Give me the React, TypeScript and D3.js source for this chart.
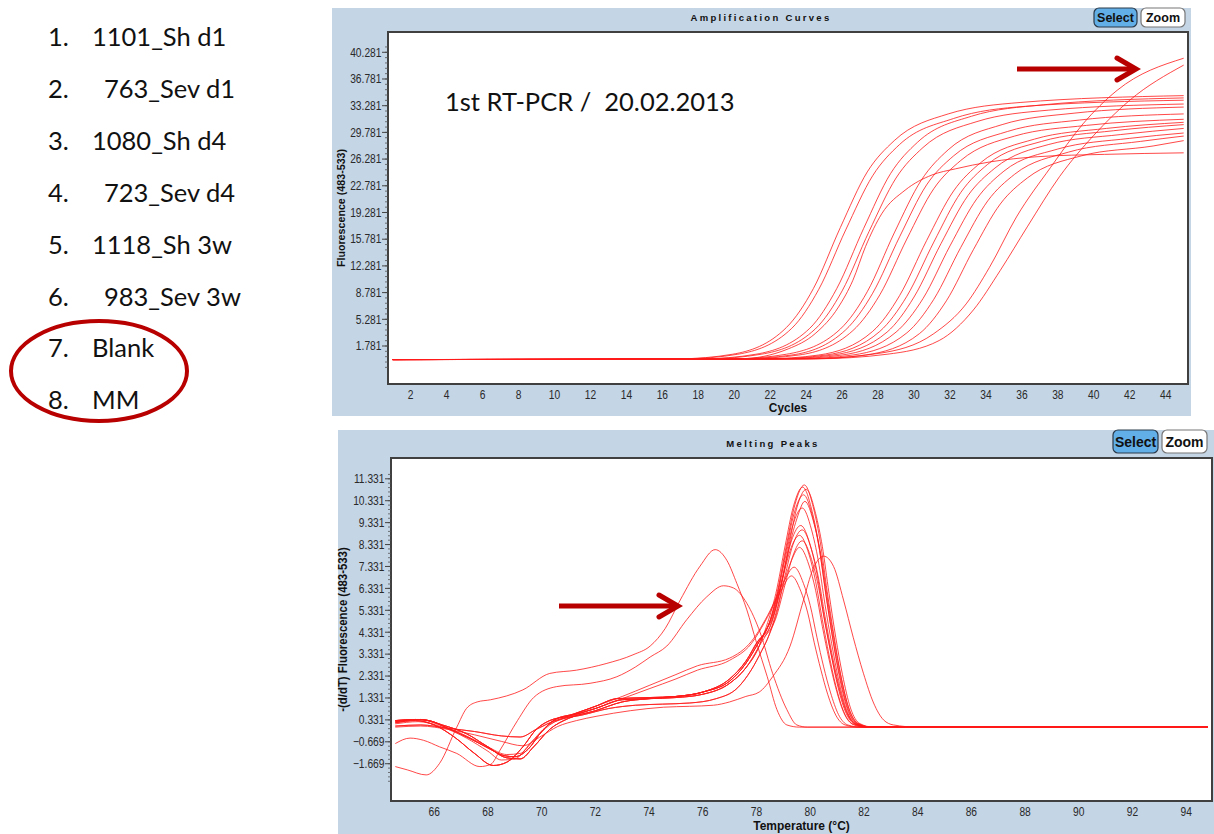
import React from "react";
import * as d3 from "d3";

type Pt = [number, number];

// ---------- left list ----------
const sampleNumbers = ["1.", "2.", "3.", "4.", "5.", "6.", "7.", "8."];
const sampleNames = ["1101_Sh d1", "763_Sev d1", "1080_Sh d4", "723_Sev d4", "1118_Sh 3w", "983_Sev 3w", "Blank", "MM"];
const sampleIndented = [false, true, false, true, false, true, false, false];

// ---------- amplification panel ----------
const ampTitle = "Amplification Curves";
const ampXLabel = "Cycles";
const ampYLabel = "Fluorescence (483-533)";
const ampNote = "1st RT-PCR /  20.02.2013";
const ampXTicks = [2, 4, 6, 8, 10, 12, 14, 16, 18, 20, 22, 24, 26, 28, 30, 32, 34, 36, 38, 40, 42, 44];
const ampYTicks = [1.781, 5.281, 8.781, 12.281, 15.781, 19.281, 22.781, 26.281, 29.781, 33.281, 36.781, 40.281];

const ampCurves: Pt[][] = [
  [[1, 0], [16.9, 0.1], [19.9, 0.7], [22.9, 4.2], [24.4, 9.3], [25.9, 17.3], [27.4, 24.6], [28.9, 28.7], [31.9, 32.2], [35.9, 33.7], [45, 34.6]],
  [[1, 0], [17.2, 0.1], [20.2, 0.7], [23.2, 4.1], [24.7, 9.2], [26.2, 17.0], [27.7, 24.1], [29.2, 28.2], [32.2, 31.6], [36.2, 33.2], [45, 34.0]],
  [[1, 0], [18.2, 0.1], [21.2, 0.7], [24.2, 4.1], [25.7, 9.3], [27.2, 17.2], [28.7, 24.4], [30.2, 28.5], [33.2, 31.9], [37.2, 33.4], [45, 34.3]],
  [[1, 0], [18.5, 0.1], [21.5, 0.7], [24.5, 4.0], [26.0, 9.0], [27.5, 16.8], [29.0, 23.8], [30.5, 27.8], [33.5, 31.2], [37.5, 32.7], [45, 33.5]],
  [[1, 0], [20.3, 0.1], [23.0, 1.4], [24.5, 3.4], [25.8, 6.9], [26.6, 10.4], [27.3, 14.8], [28.2, 19.1], [29.5, 22.2], [31.0, 24.2], [32.3, 25.0], [34.2, 25.9], [36.9, 26.6], [40.6, 26.9], [45, 27.1]],
  [[1, 0], [19.9, 0.1], [22.9, 0.7], [25.9, 4.0], [27.4, 8.9], [28.9, 16.6], [30.4, 23.5], [31.9, 27.5], [34.9, 30.8], [38.9, 32.3], [45, 33.1]],
  [[1, 0], [20.2, 0.1], [23.2, 0.6], [26.2, 3.9], [27.7, 8.7], [29.2, 16.1], [30.7, 22.9], [32.2, 26.7], [35.2, 29.9], [39.2, 31.4], [45, 32.2]],
  [[1, 0], [20.6, 0.1], [23.6, 0.6], [26.6, 3.8], [28.1, 8.5], [29.6, 15.8], [31.1, 22.4], [32.6, 26.1], [35.6, 29.3], [39.6, 30.7], [45, 31.5]],
  [[1, 0], [21.7, 0.1], [24.7, 0.6], [27.7, 3.7], [29.2, 8.4], [30.7, 15.6], [32.2, 22.1], [33.7, 25.8], [36.7, 28.9], [40.7, 30.3], [45, 31.1]],
  [[1, 0], [22.1, 0.1], [25.1, 0.6], [28.1, 3.7], [29.6, 8.3], [31.1, 15.4], [32.6, 21.9], [34.1, 25.6], [37.1, 28.6], [41.1, 30.0], [45, 30.8]],
  [[1, 0], [22.5, 0.1], [25.5, 0.6], [28.5, 3.6], [30.0, 8.2], [31.5, 15.2], [33.0, 21.5], [34.5, 25.1], [37.5, 28.2], [41.5, 29.5], [45, 30.3]],
  [[1, 0], [23.0, 0.1], [26.0, 0.6], [29.0, 3.6], [30.5, 8.0], [32.0, 14.9], [33.5, 21.1], [35.0, 24.7], [38.0, 27.6], [42.0, 29.0], [45, 29.7]],
  [[1, 0], [23.6, 0.1], [26.6, 0.6], [29.6, 3.5], [31.1, 7.9], [32.6, 14.7], [34.1, 20.8], [35.6, 24.3], [38.6, 27.2], [42.6, 28.6], [45, 29.3]],
  [[1, 0], [24.3, 0.1], [27.3, 0.6], [30.3, 3.4], [31.8, 7.7], [33.3, 14.4], [34.8, 20.4], [36.3, 23.8], [39.3, 26.7], [43.3, 28.0], [45, 28.7]],
  [[1, 0], [24, 0.1], [28, 0.8], [31.1, 3.4], [32.9, 7.3], [34.2, 12.1], [35.7, 18.7], [37.6, 25.2], [39.4, 30.9], [41.3, 35.3], [45, 39.5]],
  [[1, 0], [24.5, 0.1], [28.5, 0.7], [31.4, 2.5], [33.3, 6.5], [34.8, 11.7], [36.3, 17.4], [38.1, 24.0], [40.0, 29.4], [42.0, 34.0], [45, 38.6]],
];

// ---------- melting panel ----------
const meltTitle = "Melting Peaks";
const meltXLabel = "Temperature (°C)";
const meltYLabel = "-(d/dT) Fluorescence (483-533)";
const meltXTicks = [66, 68, 70, 72, 74, 76, 78, 80, 82, 84, 86, 88, 90, 92, 94];
const meltYTicks = [-1.669, -0.669, 0.331, 1.331, 2.331, 3.331, 4.331, 5.331, 6.331, 7.331, 8.331, 9.331, 10.331, 11.331];

const rampA: Pt[] = [[64.55, 0.3], [65.3, 0.35], [65.8, 0.3], [66.5, -0.05], [67.3, -0.5], [68.0, -0.95], [68.6, -1.3], [69.0, -1.35], [69.5, -1.0], [70.0, -0.2], [70.5, 0.35], [71.2, 0.6], [72.0, 0.95], [72.8, 1.3], [74, 1.35], [75, 1.4], [76, 1.6], [77, 2.1], [77.6, 2.9], [78.1, 3.9]];
const rampB: Pt[] = [[64.55, 0.2], [65.3, 0.3], [66, 0.1], [66.8, -0.5], [67.5, -1.2], [68.2, -1.75], [68.7, -1.6], [69.3, -0.9], [69.8, -0.1], [70.3, 0.3], [71, 0.5], [72, 0.85], [73, 1.25], [74, 1.3], [75, 1.35], [76, 1.5], [77, 2.0], [77.6, 2.7], [78.1, 3.7]];
const rampC: Pt[] = [[64.55, 0.05], [65.5, 0.1], [66.5, -0.05], [67.5, -0.2], [68.5, -0.4], [69.2, -0.45], [69.8, -0.1], [70.5, 0.3], [71.5, 0.55], [72.5, 0.85], [73.5, 1.0], [74.5, 1.05], [75.5, 1.1], [76.5, 1.3], [77.3, 1.8], [77.8, 2.6], [78.2, 3.5]];
const rampD: Pt[] = [[64.55, 0.25], [65.5, 0.35], [66.3, 0.1], [67.2, -0.3], [68.0, -0.9], [68.7, -1.4], [69.2, -1.45], [69.7, -0.9], [70.3, -0.1], [71, 0.4], [72, 0.75], [73, 1.15], [74, 1.3], [75, 1.4], [76, 1.6], [77, 2.2], [77.6, 3.0], [78.1, 4.0]];
const flatTail: Pt[] = [[84.5, 0], [94.8, 0]];

const meltCurves: Pt[][] = [
  [...rampA, [78.43, 4.6], [78.78, 6.2], [79.13, 8.4], [79.43, 10.15], [79.78, 11.05], [80.13, 9.95], [80.38, 8.4], [80.63, 6.2], [80.88, 4.2], [81.13, 2.43], [81.43, 0.88], [81.78, 0.17], [82.28, 0], ...flatTail],
  [...rampB, [78.37, 4.6], [78.72, 6.1], [79.07, 8.3], [79.37, 10.05], [79.72, 10.95], [80.07, 9.85], [80.32, 8.3], [80.57, 6.15], [80.82, 4.15], [81.07, 2.4], [81.37, 0.88], [81.72, 0.16], [82.22, 0], ...flatTail],
  [...rampD, [78.5, 4.55], [78.85, 6.1], [79.2, 8.25], [79.5, 10.0], [79.85, 10.85], [80.2, 9.75], [80.45, 8.25], [80.7, 6.1], [80.95, 4.1], [81.2, 2.4], [81.5, 0.87], [81.85, 0.16], [82.35, 0], ...flatTail],
  [...rampA, [78.4, 4.5], [78.75, 5.95], [79.1, 8.05], [79.4, 9.75], [79.75, 10.6], [80.1, 9.55], [80.35, 8.05], [80.6, 5.95], [80.85, 4.0], [81.1, 2.35], [81.4, 0.85], [81.75, 0.16], [82.25, 0], ...flatTail],
  [...rampB, [78.45, 4.45], [78.8, 5.8], [79.15, 7.85], [79.5, 9.5], [79.8, 10.3], [80.15, 9.25], [80.4, 7.85], [80.65, 5.8], [80.9, 3.9], [81.15, 2.25], [81.45, 0.82], [81.8, 0.15], [82.3, 0], ...flatTail],
  [...rampD, [78.35, 4.4], [78.7, 5.6], [79.05, 7.6], [79.35, 9.2], [79.7, 10.0], [80.05, 9.0], [80.3, 7.6], [80.55, 5.6], [80.8, 3.8], [81.05, 2.2], [81.35, 0.8], [81.7, 0.15], [82.2, 0], ...flatTail],
  [...rampA, [78.3, 4.3], [78.65, 5.3], [79.0, 7.0], [79.3, 8.5], [79.65, 9.2], [80.0, 8.3], [80.25, 7.0], [80.5, 5.15], [80.75, 3.5], [81.0, 2.0], [81.3, 0.74], [81.65, 0.14], [82.15, 0], ...flatTail],
  [...rampC, [78.4, 4.0], [78.7, 5.1], [79.05, 6.85], [79.35, 8.3], [79.7, 9.0], [80.05, 8.1], [80.3, 6.85], [80.55, 5.05], [80.8, 3.4], [81.05, 1.98], [81.35, 0.72], [81.7, 0.14], [82.2, 0], ...flatTail],
  [...rampB, [78.25, 4.2], [78.6, 5.0], [78.95, 6.65], [79.25, 8.05], [79.6, 8.75], [79.95, 7.9], [80.2, 6.65], [80.45, 4.9], [80.7, 3.3], [80.95, 1.9], [81.25, 0.7], [81.6, 0.13], [82.1, 0], ...flatTail],
  [...rampD, [78.35, 4.2], [78.7, 4.9], [79.05, 6.45], [79.35, 7.8], [79.7, 8.5], [80.05, 7.65], [80.3, 6.45], [80.55, 4.75], [80.8, 3.2], [81.05, 1.87], [81.35, 0.68], [81.7, 0.13], [82.2, 0], ...flatTail],
  [...rampC, [78.4, 4.0], [78.75, 5.2], [79.0, 6.5], [79.3, 7.6], [79.6, 8.2], [79.95, 7.4], [80.2, 6.25], [80.45, 4.6], [80.7, 3.1], [80.95, 1.8], [81.25, 0.66], [81.6, 0.12], [82.1, 0], ...flatTail],
  [[64.55, 0.3], [65.4, 0.35], [66.3, 0.05], [67.2, -0.4], [68.0, -0.9], [68.7, -1.25], [69.2, -1.2], [69.7, -0.6], [70.3, 0.1], [71, 0.5], [72, 0.95], [73, 1.4], [74, 1.9], [75, 2.4], [75.8, 2.8], [77, 3.15], [77.8, 3.9], [78.5, 5.3], [79.0, 6.6], [79.4, 7.3], [79.75, 6.55], [80.0, 5.55], [80.25, 4.1], [80.5, 2.75], [80.75, 1.6], [81.05, 0.58], [81.4, 0.1], [81.9, 0], ...flatTail],
  [[64.55, 0.15], [65.4, 0.25], [66.3, 0.0], [67.2, -0.5], [68.0, -1.1], [68.5, -1.5], [69.0, -1.45], [69.6, -0.7], [70.2, 0.05], [71, 0.45], [72, 0.85], [73, 1.3], [74, 1.75], [75, 2.2], [75.8, 2.6], [77, 3.05], [77.8, 3.8], [78.4, 5.0], [78.9, 6.2], [79.3, 6.9], [79.65, 6.2], [79.9, 5.25], [80.15, 3.85], [80.4, 2.6], [80.65, 1.5], [80.95, 0.55], [81.3, 0.1], [81.8, 0], ...flatTail],
  [[64.55, 0.0], [65.5, 0.05], [66.5, -0.1], [67.5, -0.35], [68.5, -0.65], [69.3, -0.85], [70.0, -0.4], [70.6, 0.03], [71.3, 0.3], [72.06, 0.5], [73.3, 0.75], [74.54, 0.91], [75.5, 0.95], [76.4, 1.0], [77.0, 1.15], [77.6, 1.4], [78.1, 1.6], [78.6, 2.3], [79.25, 3.7], [79.75, 5.8], [80.1, 7.2], [80.5, 7.8], [80.87, 7.33], [81.24, 5.8], [81.6, 4.1], [81.98, 2.46], [82.36, 1.1], [82.73, 0.33], [83.1, 0.1], [84, 0.0], [94.8, 0]],
  [[64.55, -1.8], [65.0, -1.95], [65.7, -2.18], [66.2, -1.65], [66.84, 0.0], [67.2, 0.85], [67.6, 1.15], [68.1, 1.25], [69.3, 1.7], [70.3, 2.45], [71.3, 2.6], [72.4, 2.9], [73.4, 3.3], [74.04, 3.7], [74.6, 4.5], [75.16, 5.8], [75.9, 7.35], [76.46, 8.1], [76.9, 7.6], [77.27, 6.55], [77.64, 5.35], [78.0, 3.85], [78.4, 2.3], [78.76, 0.8], [79.13, 0.1], [79.6, 0], [94.8, 0]],
  [[64.55, -0.75], [65.1, -0.5], [65.6, -0.6], [66.2, -0.9], [66.84, -1.2], [67.7, -1.8], [68.1, -1.7], [68.45, -1.05], [69.1, 0.3], [69.7, 1.35], [70.56, 1.85], [71.8, 2.0], [72.8, 2.3], [73.5, 2.75], [74.04, 3.2], [74.66, 3.7], [75.4, 4.9], [76.15, 5.95], [76.77, 6.45], [77.14, 6.35], [77.64, 5.65], [78.14, 4.3], [78.6, 2.45], [79.13, 0.8], [79.5, 0.1], [79.9, 0], [94.8, 0]],
];

const AXIS_FONT = "'Liberation Sans', Arial, sans-serif";
const TEXT_FONT = "Lato, 'Open Sans', sans-serif";
const PANEL_BG = "#c4d5e6";
const CURVE = "#ff1a1a";
const DARK_RED = "#b80000";

function NarrowText({ x, y, children, anchor = "middle", size = 12.5, sx = 0.82, bold = false, rotate = 0 }: { x: number; y: number; children: React.ReactNode; anchor?: string; size?: number; sx?: number; bold?: boolean; rotate?: number }) {
  return (
    <text
      transform={`translate(${x},${y}) rotate(${rotate}) scale(${sx},1)`}
      textAnchor={anchor as any}
      fontFamily={AXIS_FONT}
      fontWeight={bold ? "bold" : "normal"}
      fontSize={size}
      fill={bold ? "#111" : "#2a2a2a"}
    >
      {children}
    </text>
  );
}

function Button({ x, y, w, h, label, active, fs }: { x: number; y: number; w: number; h: number; label: string; active: boolean; fs: number }) {
  return (
    <g>
      <rect x={x} y={y} width={w} height={h} rx={5} ry={5} fill={active ? "#62aee6" : "#ffffff"} stroke={active ? "#2a3a4a" : "#777"} strokeWidth={1.2} />
      <text x={x + w / 2} y={y + h / 2 + fs * 0.36} textAnchor="middle" fontFamily={AXIS_FONT} fontWeight="bold" fontSize={fs} fill="#111">
        {label}
      </text>
    </g>
  );
}

function YAxis({ scale, ticks, x, minorStep, fmt }: { scale: d3.ScaleLinear<number, number>; ticks: number[]; x: number; minorStep: number; fmt: (v: number) => string }) {
  const lo = ticks[0] - minorStep * 4;
  const hi = ticks[ticks.length - 1] + minorStep * 1;
  const minors = d3.range(lo, hi + 1e-6, minorStep);
  return (
    <g>
      {minors.map((m, i) => (
        <line key={"m" + i} x1={x - 3} x2={x} y1={scale(m)} y2={scale(m)} stroke="#555" strokeWidth={0.8} />
      ))}
      {ticks.map((t, i) => (
        <g key={i}>
          <line x1={x - 6} x2={x} y1={scale(t)} y2={scale(t)} stroke="#444" strokeWidth={1} />
          <NarrowText x={x - 6.5} y={scale(t) + 4.3} anchor="end">
            {fmt(t)}
          </NarrowText>
        </g>
      ))}
    </g>
  );
}

export default function App() {
  const fmt = d3.format(".3f");

  // amplification layout
  const aL = 388, aT = 32, aR = 1188, aB = 384;
  const ax = d3.scaleLinear().domain([0.74, 45.24]).range([aL, aR]);
  const ay = d3.scaleLinear().domain([-3.2, 42.94]).range([aB, aT]);
  const aLine = d3.line<Pt>().x((d) => ax(d[0])).y((d) => ay(d[1])).curve(d3.curveMonotoneX);

  // melting layout
  const mL = 391, mT = 458, mR = 1212, mB = 801;
  const mx = d3.scaleLinear().domain([64.39, 94.96]).range([mL, mR]);
  const my = d3.scaleLinear().domain([-3.37, 12.28]).range([mB, mT]);
  const mLine = d3.line<Pt>().x((d) => mx(d[0])).y((d) => my(d[1])).curve(d3.curveMonotoneX);

  return (
    <svg width={1214} height={834} style={{ position: "absolute", left: 0, top: 0, background: "#fff" }}>
      <defs>
        <clipPath id="ampClip">
          <rect x={aL} y={aT} width={aR - aL} height={aB - aT} />
        </clipPath>
        <clipPath id="meltClip">
          <rect x={mL} y={mT} width={mR - mL} height={mB - mT} />
        </clipPath>
      </defs>

      {/* sample list */}
      {sampleNames.map((name, i) => {
        const y = 46 + i * 51.9;
        return (
          <g key={i} fontFamily={TEXT_FONT} fontSize={25.5} fill="#111">
            <text x={48} y={y}>{sampleNumbers[i]}</text>
            <text x={sampleIndented[i] ? 104 : 92} y={y}>{name}</text>
          </g>
        );
      })}
      <ellipse cx={99} cy={371} rx={88} ry={50} fill="none" stroke={DARK_RED} strokeWidth={4} />

      {/* ===== Amplification panel ===== */}
      <rect x={332} y={8} width={859} height={408} fill={PANEL_BG} />
      <text x={761} y={21} textAnchor="middle" fontFamily={AXIS_FONT} fontWeight="bold" fontSize={9.5} letterSpacing={2.3} fill="#111">
        {ampTitle}
      </text>
      <Button x={1094} y={8} w={43} h={19} label="Select" active={true} fs={12.5} />
      <Button x={1141} y={8} w={44} h={19} label="Zoom" active={false} fs={12.5} />
      <rect x={aL} y={aT} width={aR - aL} height={aB - aT} fill="#fff" stroke="#404040" strokeWidth={2} />
      <YAxis scale={ay} ticks={ampYTicks} x={aL} minorStep={0.7} fmt={fmt} />
      {ampXTicks.map((t) => (
        <NarrowText key={t} x={ax(t)} y={aB + 15}>
          {t}
        </NarrowText>
      ))}
      <NarrowText x={(aL + aR) / 2} y={412} bold size={12.5} sx={0.95}>
        {ampXLabel}
      </NarrowText>
      <NarrowText x={345} y={(aT + aB) / 2} bold size={11.5} sx={0.93} rotate={-90}>
        {ampYLabel}
      </NarrowText>
      <g clipPath="url(#ampClip)">
        {ampCurves.map((c, i) => (
          <path key={i} d={aLine(c) || ""} fill="none" stroke={CURVE} strokeWidth={1} strokeOpacity={0.8} />
        ))}
      </g>
      <text x={445} y={111} fontFamily={TEXT_FONT} fontSize={25.5} fill="#111" style={{ whiteSpace: "pre" }}>
        {ampNote}
      </text>
      {/* arrow top */}
      <line x1={1017} y1={69} x2={1132} y2={69} stroke={DARK_RED} strokeWidth={5} />
      <polyline points="1117,58 1136,69 1117,80" fill="none" stroke={DARK_RED} strokeWidth={5} strokeLinecap="round" />

      {/* ===== Melting panel ===== */}
      <rect x={338} y={430} width={876} height={404} fill={PANEL_BG} />
      <text x={773} y={447} textAnchor="middle" fontFamily={AXIS_FONT} fontWeight="bold" fontSize={9.5} letterSpacing={2.3} fill="#111">
        {meltTitle}
      </text>
      <Button x={1113} y={430} w={45} h={23} label="Select" active={true} fs={14} />
      <Button x={1162} y={430} w={45} h={23} label="Zoom" active={false} fs={14} />
      <rect x={mL} y={mT} width={mR - mL} height={mB - mT} fill="#fff" stroke="#404040" strokeWidth={2} />
      <YAxis scale={my} ticks={meltYTicks} x={mL} minorStep={0.2} fmt={fmt} />
      {meltXTicks.map((t) => (
        <NarrowText key={t} x={mx(t)} y={mB + 15}>
          {t}
        </NarrowText>
      ))}
      <NarrowText x={(mL + mR) / 2} y={830} bold size={12.5} sx={0.96}>
        {meltXLabel}
      </NarrowText>
      <NarrowText x={347} y={(mT + mB) / 2} bold size={12} sx={0.95} rotate={-90}>
        {meltYLabel}
      </NarrowText>
      <g clipPath="url(#meltClip)">
        {meltCurves.map((c, i) => (
          <path key={i} d={mLine(c) || ""} fill="none" stroke={CURVE} strokeWidth={1} strokeOpacity={0.8} />
        ))}
      </g>
      {/* arrow bottom */}
      <line x1={559} y1={606} x2={674} y2={606} stroke={DARK_RED} strokeWidth={5} />
      <polyline points="659,595 678,606 659,617" fill="none" stroke={DARK_RED} strokeWidth={5} strokeLinecap="round" />
    </svg>
  );
}
